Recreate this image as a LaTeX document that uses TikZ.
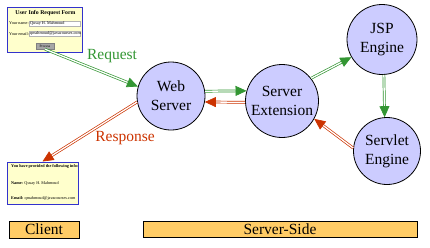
\documentclass[tikz,border=0pt]{standalone}
\usepackage{fontspec}
\setmainfont{Liberation Serif}
\usetikzlibrary{arrows.meta}
\definecolor{reqgreen}{RGB}{51,150,51}
\definecolor{resred}{RGB}{204,51,0}
\definecolor{engfill}{RGB}{204,204,255}
\definecolor{barfill}{RGB}{255,204,102}
\definecolor{pagefill}{RGB}{255,255,204}
\definecolor{pageblue}{RGB}{51,51,204}

\begin{document}
\begin{tikzpicture}[x=1pt, y=-1pt, font=\fontsize{15.5}{19}\selectfont,
  engine/.style={circle, draw=black, fill=engfill, line width=0.8pt, inner sep=0pt, align=center},
  page/.style={draw=pageblue, fill=pagefill, line width=1pt, inner sep=0pt},
  bar/.style={draw=black, fill=barfill, line width=0.8pt, inner sep=0pt},
  tiny/.style={font=\fontsize{4.2}{5}\selectfont, inner sep=0pt},
  req/.style={draw=reqgreen, double=white, double distance=1.3pt, line width=0.7pt,
    -{Triangle[length=11pt, width=10pt]}},
  res/.style={draw=resred, double=white, double distance=1.3pt, line width=0.7pt,
    -{Triangle[length=11pt, width=10pt]}}]
\useasboundingbox (0,0) rectangle (430,247);
% client pages
\node[page, minimum width=75pt, minimum height=45pt] (form) at (44.5,29.5) {};
\node[tiny, font=\fontsize{5.8}{7}\selectfont\bfseries] (ftitle) at (45.5,13) {User Info Request Form};
\node[tiny, anchor=west] (fname) at (9,23.5) {Your name:};
\node[tiny, anchor=west] (fmail) at (9,34) {Your email:};
\draw[gray!60, fill=white] (29,21) rectangle (80,26.5);
\draw[gray!60, fill=white] (29,31) rectangle (80,36.5);
\node[tiny, anchor=west] (vname) at (30,23.8) {Qusay H. Mahmoud};
\node[tiny, anchor=west] (vmail) at (30,33.8) {qmahmoud@javacourses.com};
\node[draw=gray, fill=gray!70, minimum width=18pt, minimum height=6pt, inner sep=0pt,
  font=\fontsize{3.5}{4}\selectfont] (btn) at (45,46) {Process};
\node[page, minimum width=71pt, minimum height=42pt] (resp) at (42.5,183) {};
\node[tiny, anchor=west, font=\fontsize{4.2}{5}\selectfont\bfseries] (rtitle) at (11,166) {You have provided the following info:};
\node[tiny, anchor=west] (rname) at (11,183) {\textbf{Name:} Qusay H. Mahmoud};
\node[tiny, anchor=west] (rmail) at (11,198) {\textbf{Email:} qmahmoud@javacourses.com};
% server side
\node[engine, minimum size=68pt] (web) at (171,96) {Web\\Server};
\node[engine, minimum size=73pt] (ext) at (282,101) {Server\\Extension};
\node[engine, minimum size=70pt] (jsp) at (382,39.5) {JSP\\Engine};
\node[engine, minimum size=67pt] (servlet) at (387,151) {Servlet\\Engine};
% bars
\node[bar, minimum width=70pt, minimum height=17pt] (client) at (44,229.5) {Client};
\node[bar, minimum width=274pt, minimum height=16pt] (side) at (280,229.5) {Server-Side};
% arrows
\draw[req] (btn.south) -- (web.164);
\node[text=reqgreen] (reqlbl) at (112,56) {Request};
\draw[res] (web.190) -- (resp.north);
\node[text=resred] (reslbl) at (125,138) {Response};
\draw[req] (web.8) -- (ext.164);
\draw[res] (ext.182) -- (web.350);
\draw[req] (ext.38) -- (jsp.210);
\draw[req] (jsp.-87) -- (servlet.94);
\draw[res] (servlet.175) -- (ext.-29);
\end{tikzpicture}
\end{document}
